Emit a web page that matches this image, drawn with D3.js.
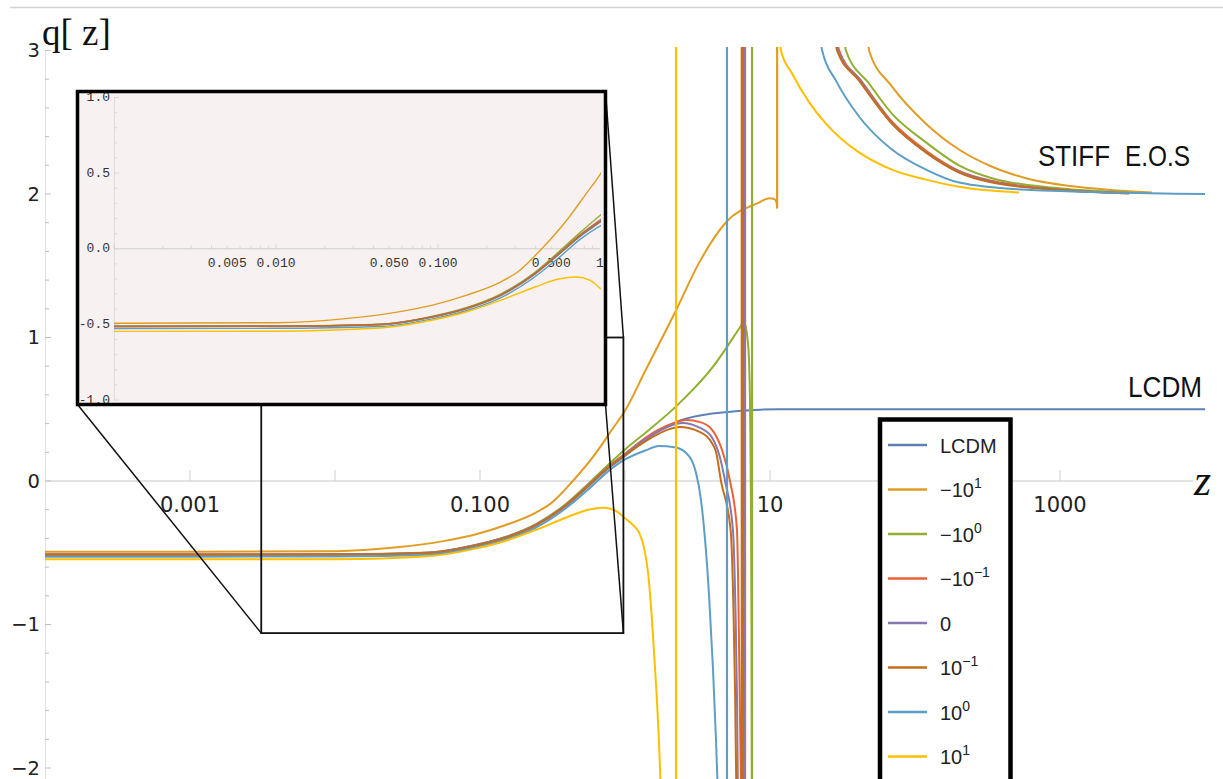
<!DOCTYPE html>
<html><head><meta charset="utf-8">
<script src="https://cdn.jsdelivr.net/npm/d3@7"></script>
<style>body{margin:0;background:#fff}svg{display:block}</style>
</head><body>
<svg id="chart" width="1223" height="779"></svg>
<script>
// ---------------- DATA ----------------
const seriesLabels = [
  {base:"LCDM", sup:""}, {base:"\u221210", sup:"1"}, {base:"\u221210", sup:"0"},
  {base:"\u221210", sup:"\u22121"}, {base:"0", sup:""}, {base:"10", sup:"\u22121"},
  {base:"10", sup:"0"}, {base:"10", sup:"1"}
];
const seriesColors = ["#5E81B5","#E19C24","#8FB032","#EB6235","#8778B3","#C56E1A","#5D9EC7","#FFBF00"];

// [z, q] points before the singularity
const lcdmPre = [[1e-4,-0.514],[0.001,-0.514],[0.01,-0.513],[0.044,-0.502],[0.091,-0.453],[0.149,-0.397],[0.243,-0.31],[0.397,-0.168],[0.557,-0.038],[0.75,0.08],[1.0,0.175],[1.4,0.29],[2.25,0.41],[4.0,0.47],[11.5,0.5],[100,0.5],[1e4,0.5]];
const neg10Pre = [[1e-4,-0.493],[0.001,-0.493],[0.01,-0.489],[0.0269,-0.462],[0.0558,-0.419],[0.0913,-0.374],[0.149,-0.308],[0.243,-0.22],[0.31,-0.154],[0.437,0.0],[0.646,0.21],[0.81,0.355],[1.0,0.49],[1.4,0.78],[2.25,1.19],[3.24,1.52],[5.05,1.81],[8.4,1.94],[9.84,1.97],[10.7,1.965],[11.1,1.94],[11.2,1.9]];
const neg1Pre = [[1e-4,-0.512],[0.001,-0.512],[0.01,-0.511],[0.044,-0.499],[0.091,-0.448],[0.149,-0.39],[0.243,-0.3],[0.397,-0.155],[0.557,-0.02],[0.75,0.105],[1.0,0.22],[1.4,0.34],[2.25,0.52],[4.0,0.79],[6.3,1.08],[6.6,1.11],[6.82,1.07],[7.0,0.99],[7.16,0.85],[7.3,0.45],[7.39,-0.15],[7.45,-1.0],[7.5,-2.6]];
const neg01Pre = [[1e-4,-0.513],[0.001,-0.513],[0.01,-0.512],[0.044,-0.5],[0.091,-0.45],[0.149,-0.394],[0.243,-0.306],[0.397,-0.162],[0.557,-0.03],[0.75,0.09],[1.0,0.19],[1.4,0.305],[2.0,0.39],[2.64,0.425],[3.3,0.41],[4.0,0.355],[4.67,0.216],[5.3,0.0],[5.92,-0.34],[6.07,-0.9],[6.2,-1.6],[6.3,-2.1],[6.36,-2.6]];
const zeroPre = [[1e-4,-0.513],[0.001,-0.513],[0.01,-0.512],[0.044,-0.5],[0.091,-0.45],[0.149,-0.394],[0.243,-0.306],[0.397,-0.162],[0.557,-0.03],[0.75,0.088],[1.0,0.185],[1.4,0.295],[2.0,0.38],[2.47,0.405],[3.3,0.37],[4.0,0.3],[4.5,0.17],[4.9,0.0],[5.55,-0.34],[5.78,-0.9],[5.92,-1.5],[6.0,-2.1],[6.07,-2.6]];
const pos01Pre = [[1e-4,-0.514],[0.001,-0.514],[0.01,-0.513],[0.044,-0.501],[0.091,-0.452],[0.149,-0.396],[0.243,-0.309],[0.397,-0.165],[0.557,-0.035],[0.75,0.085],[1.0,0.18],[1.4,0.28],[2.0,0.36],[2.37,0.376],[3.3,0.34],[4.0,0.26],[4.25,0.2],[4.59,0.0],[5.35,-0.34],[5.6,-0.9],[5.75,-1.5],[5.85,-2.1],[5.92,-2.6]];
const pos1Pre = [[1e-4,-0.527],[0.001,-0.527],[0.01,-0.526],[0.044,-0.514],[0.091,-0.465],[0.149,-0.41],[0.243,-0.325],[0.397,-0.185],[0.557,-0.06],[0.75,0.06],[1.0,0.15],[1.4,0.215],[1.71,0.244],[2.2,0.235],[2.64,0.195],[3.09,0.056],[3.34,-0.13],[3.56,-0.4],[3.8,-0.8],[4.04,-1.3],[4.24,-1.8],[4.38,-2.2],[4.5,-2.6]];
const pos10Pre = [[1e-4,-0.546],[0.001,-0.546],[0.01,-0.545],[0.0438,-0.524],[0.0913,-0.473],[0.149,-0.418],[0.243,-0.341],[0.397,-0.253],[0.557,-0.2],[0.71,-0.187],[0.87,-0.209],[1.0,-0.26],[1.117,-0.3],[1.25,-0.36],[1.35,-0.46],[1.45,-0.66],[1.53,-0.95],[1.61,-1.3],[1.69,-1.68],[1.75,-2.05],[1.8,-2.5]];

// [z, qFrom, qTo] : jump at the singularity
const poles = [null,[11.2,1.9,3.5],[7.52,-3,3.5],[6.73,-3,3.5],[6.6,-3,3.5],[6.43,-3,3.5],[5.05,-3,3.5],[2.25,-3,3.5]];

// [z, q] points after the singularity (stiff e.o.s. branch)
const neg10Post = [[46.5,3.2],[48.2,3.0],[69.3,2.75],[119,2.49],[201,2.31],[340,2.19],[583,2.11],[1663,2.04],[4300,2.01]];
const neg1Post = [[32,3.15],[33.4,3.0],[48.2,2.77],[69.3,2.56],[119,2.36],[201,2.2],[340,2.11],[984,2.04],[3000,2.01]];
const neg01Post = [[28.5,3.12],[30,3.0],[42.5,2.79],[70,2.5],[120,2.3],[203,2.16],[345,2.09],[990,2.03],[3000,2.005]];
const zeroPost = [[28,3.13],[29.5,3.0],[42,2.79],[69.5,2.49],[119,2.29],[202,2.155],[342,2.085],[985,2.03],[3000,2.005]];
const pos01Post = [[27.5,3.15],[29,3.0],[41.1,2.79],[69.3,2.49],[119,2.29],[201,2.15],[340,2.08],[984,2.03],[3000,2.005]];
const pos1Post = [[21.5,3.15],[22.9,3.0],[28.5,2.79],[41.1,2.54],[69.3,2.31],[119,2.17],[201,2.08],[583,2.03],[1e4,2.0]];
const pos10Post = [[11.5,3.15],[11.9,3.0],[14.2,2.84],[18.6,2.64],[24.3,2.49],[31.4,2.38],[41.1,2.29],[69.3,2.17],[119,2.1],[201,2.05],[521,2.01]];

const preBranches = [lcdmPre, neg10Pre, neg1Pre, neg01Pre, zeroPre, pos01Pre, pos1Pre, pos10Pre];
const postBranches = [[], neg10Post, neg1Post, neg01Post, zeroPost, pos01Post, pos1Post, pos10Post];

const mainYTicks = [3,2,1,0,-1,-2];
const mainXLabelTicks = [0.001, 0.1, 10, 1000];
const mainXLabels = ["0.001","0.100","10","1000"];
const insetXTicks = [0.005,0.01,0.05,0.1,0.5,1];
const insetXLabels = ["0.005","0.010","0.050","0.100","0.500","1"];
const insetYTicks = [1,0.5,0,-0.5,-1];
const insetYLabels = ["1.0","0.5","0.0","-0.5","-1.0"];
const zoomZ = [0.0031, 0.975];
const zoomQ = [-1.06, 1.0];

// ---------------- DRAW ----------------
const svg = d3.select("#chart");
const xMain = d3.scaleLog().domain([1e-4,1e4]).range([45,1205]);
const yMain = d3.scaleLinear().domain([-2,3]).range([768,50.5]);
const xIn = d3.scaleLog().domain([0.001,1]).range([114,600]);
const yIn = d3.scaleLinear().domain([-1,1]).range([400,97.5]);

// top border of the screenshot
svg.append("line").attr("x1",10).attr("x2",1223).attr("y1",7.5).attr("y2",7.5)
  .attr("stroke","#d2d2d2").attr("stroke-width",1.5);

const defs = svg.append("defs");
defs.append("clipPath").attr("id","clipMain").append("rect")
  .attr("x",45).attr("y",47).attr("width",1165).attr("height",740);
defs.append("clipPath").attr("id","clipIn").append("rect")
  .attr("x",114).attr("y",96).attr("width",487).attr("height",306);

// main axes
const axG = svg.append("g");
axG.append("line").attr("x1",45).attr("x2",1193).attr("y1",yMain(0)).attr("y2",yMain(0))
  .attr("stroke","#c8c8c8").attr("stroke-width",1.2);
axG.append("line").attr("x1",45.5).attr("x2",45.5).attr("y1",yMain(3)).attr("y2",779)
  .attr("stroke","#e2e2e2").attr("stroke-width",1);
const decades = d3.range(-3,4).map(k=>Math.pow(10,k));
axG.selectAll(".xt").data(decades).join("line")
  .attr("x1",d=>xMain(d)).attr("x2",d=>xMain(d))
  .attr("y1",yMain(0)).attr("y2",yMain(0)-11)
  .attr("stroke","#cfcfcf").attr("stroke-width",1);
const yMinor = d3.range(-10,16).map(i=>i/5);
axG.selectAll(".yt").data(yMinor).join("line")
  .attr("x1",45).attr("x2",d=>Number.isInteger(d)?51:49)
  .attr("y1",d=>yMain(d)).attr("y2",d=>yMain(d))
  .attr("stroke","#bdbdbd").attr("stroke-width",1);
axG.selectAll(".yl").data(mainYTicks).join("text")
  .attr("x",40).attr("y",d=>yMain(d)).attr("text-anchor","end")
  .attr("dominant-baseline","central")
  .attr("font-family","DejaVu Sans, sans-serif").attr("font-size",19.5).attr("fill","#222")
  .text(d=>d<0?"\u2212"+Math.abs(d):String(d));
axG.selectAll(".xl").data(mainXLabelTicks).join("text")
  .attr("x",d=>xMain(d)).attr("y",yMain(0)+31).attr("text-anchor","middle")
  .attr("font-family","DejaVu Sans, sans-serif").attr("font-size",21).attr("fill","#222")
  .text((d,i)=>mainXLabels[i]);

// curves
const lineMain = d3.line().x(d=>xMain(d[0])).y(d=>yMain(d[1])).curve(d3.curveMonotoneX);
const curvesG = svg.append("g").attr("clip-path","url(#clipMain)").attr("fill","none");
preBranches.forEach((pts,i)=>{
  curvesG.append("path").attr("d",lineMain(pts)).attr("stroke",seriesColors[i]).attr("stroke-width",2);
  if (poles[i]) {
    const p = poles[i];
    curvesG.append("line").attr("x1",xMain(p[0])).attr("x2",xMain(p[0]))
      .attr("y1",yMain(p[1])).attr("y2",yMain(p[2]))
      .attr("stroke",seriesColors[i]).attr("stroke-width",i===5?3:2.2);
  }
  if (postBranches[i].length)
    curvesG.append("path").attr("d",lineMain(postBranches[i])).attr("stroke",seriesColors[i]).attr("stroke-width",2);
});

// zoom rectangle and connectors
const rx0 = xMain(zoomZ[0]), rx1 = xMain(zoomZ[1]);
const ry0 = yMain(zoomQ[1]), ry1 = yMain(zoomQ[0]);
const ix0 = 77.5, ix1 = 605.5, iy0 = 91.5, iy1 = 404.5;
const zg = svg.append("g").attr("stroke","#111").attr("fill","none");
zg.append("rect").attr("x",rx0).attr("y",ry0).attr("width",rx1-rx0).attr("height",ry1-ry0).attr("stroke-width",1.8);
[[ix0,iy0,rx0,ry0],[ix1,iy0,rx1,ry0],[ix0,iy1,rx0,ry1],[ix1,iy1,rx1,ry1]].forEach(c=>{
  zg.append("line").attr("x1",c[0]).attr("y1",c[1]).attr("x2",c[2]).attr("y2",c[3]).attr("stroke-width",1.5);
});

// inset
const inG = svg.append("g");
inG.append("rect").attr("x",ix0).attr("y",iy0).attr("width",ix1-ix0).attr("height",iy1-iy0)
  .attr("fill","#f7f2f1");
inG.append("line").attr("x1",xIn(0.001)).attr("x2",600).attr("y1",yIn(0)).attr("y2",yIn(0))
  .attr("stroke","#d0d0d0").attr("stroke-width",1);
inG.append("line").attr("x1",xIn(0.001)+0.5).attr("x2",xIn(0.001)+0.5).attr("y1",97).attr("y2",401)
  .attr("stroke","#dcdcdc").attr("stroke-width",1);
const inMinor = [];
[-3,-2,-1].forEach(k=>{for(let m=1;m<10;m++) inMinor.push(m*Math.pow(10,k));});
inG.selectAll(".ixt").data(inMinor).join("line")
  .attr("x1",d=>xIn(d)).attr("x2",d=>xIn(d))
  .attr("y1",yIn(0)).attr("y2",d=>yIn(0)-((Math.log10(d)%1===0)?5:3))
  .attr("stroke","#d0d0d0").attr("stroke-width",0.8);
inG.selectAll(".iyt").data(d3.range(-10,11).map(i=>i/10)).join("line")
  .attr("x1",xIn(0.001)).attr("x2",d=>xIn(0.001)+(Math.abs(d*2%1)<1e-9?5:3))
  .attr("y1",d=>yIn(d)).attr("y2",d=>yIn(d))
  .attr("stroke","#d4d4d4").attr("stroke-width",0.8);
inG.selectAll(".ixl").data(insetXTicks).join("text")
  .attr("x",d=>xIn(d)).attr("y",yIn(0)+18).attr("text-anchor","middle")
  .attr("font-family","Liberation Mono, DejaVu Sans Mono, monospace").attr("font-size",13).attr("fill","#333")
  .text((d,i)=>insetXLabels[i]);
inG.selectAll(".iyl").data(insetYTicks).join("text")
  .attr("x",110).attr("y",d=>yIn(d)).attr("text-anchor","end").attr("dominant-baseline","central")
  .attr("font-family","Liberation Mono, DejaVu Sans Mono, monospace").attr("font-size",13).attr("fill","#333")
  .text((d,i)=>insetYLabels[i]);
const lineIn = d3.line().x(d=>xIn(d[0])).y(d=>yIn(d[1])).curve(d3.curveMonotoneX);
const inCurves = inG.append("g").attr("clip-path","url(#clipIn)").attr("fill","none");
preBranches.forEach((pts,i)=>{
  const sub = pts.filter(d=>d[0]>=0.0009 && d[0]<=1.5);
  inCurves.append("path").attr("d",lineIn(sub)).attr("stroke",seriesColors[i]).attr("stroke-width",1.4);
});
inG.append("rect").attr("x",ix0).attr("y",iy0).attr("width",ix1-ix0).attr("height",iy1-iy0)
  .attr("fill","none").attr("stroke","#000").attr("stroke-width",3.5);

// titles / annotations
svg.append("text").attr("x",42).attr("y",45)
  .attr("font-family","Liberation Serif, serif").attr("font-size",37).attr("fill","#111")
  .text("q[ z]");
svg.append("text").attr("x",1194).attr("y",yMain(0)+14)
  .attr("font-family","Liberation Serif, serif").attr("font-style","italic").attr("font-size",44).attr("fill","#111")
  .text("z");
const annoFont = "Liberation Sans Narrow, Liberation Sans, Arial, sans-serif";
svg.append("text").attr("x",1038).attr("y",yMain(2)-28).attr("font-family",annoFont).attr("font-size",30)
  .attr("textLength",72).attr("lengthAdjust","spacingAndGlyphs").attr("fill","#111").text("STIFF");
svg.append("text").attr("x",1125).attr("y",yMain(2)-28).attr("font-family",annoFont).attr("font-size",30)
  .attr("textLength",65).attr("lengthAdjust","spacingAndGlyphs").attr("fill","#111").text("E.O.S");
svg.append("text").attr("x",1128).attr("y",yMain(0.5)-12).attr("font-family",annoFont).attr("font-size",30)
  .attr("textLength",74).attr("lengthAdjust","spacingAndGlyphs").attr("fill","#111").text("LCDM");

// legend
const lg = svg.append("g");
lg.append("rect").attr("x",880).attr("y",419.5).attr("width",130.5).attr("height",420)
  .attr("fill","#fff").attr("stroke","#000").attr("stroke-width",4.5);
seriesLabels.forEach((lab,i)=>{
  const yy = 445 + i*44.5;
  lg.append("line").attr("x1",888).attr("x2",927).attr("y1",yy).attr("y2",yy)
    .attr("stroke",seriesColors[i]).attr("stroke-width",2.5);
  const t = lg.append("text").attr("x",940).attr("y",yy+7.5)
    .attr("font-family","Liberation Sans, Arial, sans-serif").attr("font-size",20).attr("fill","#222");
  t.append("tspan").text(lab.base);
  if (lab.sup) t.append("tspan").attr("dy",-9).attr("font-size",14).text(lab.sup);
});
</script>
</body></html>
